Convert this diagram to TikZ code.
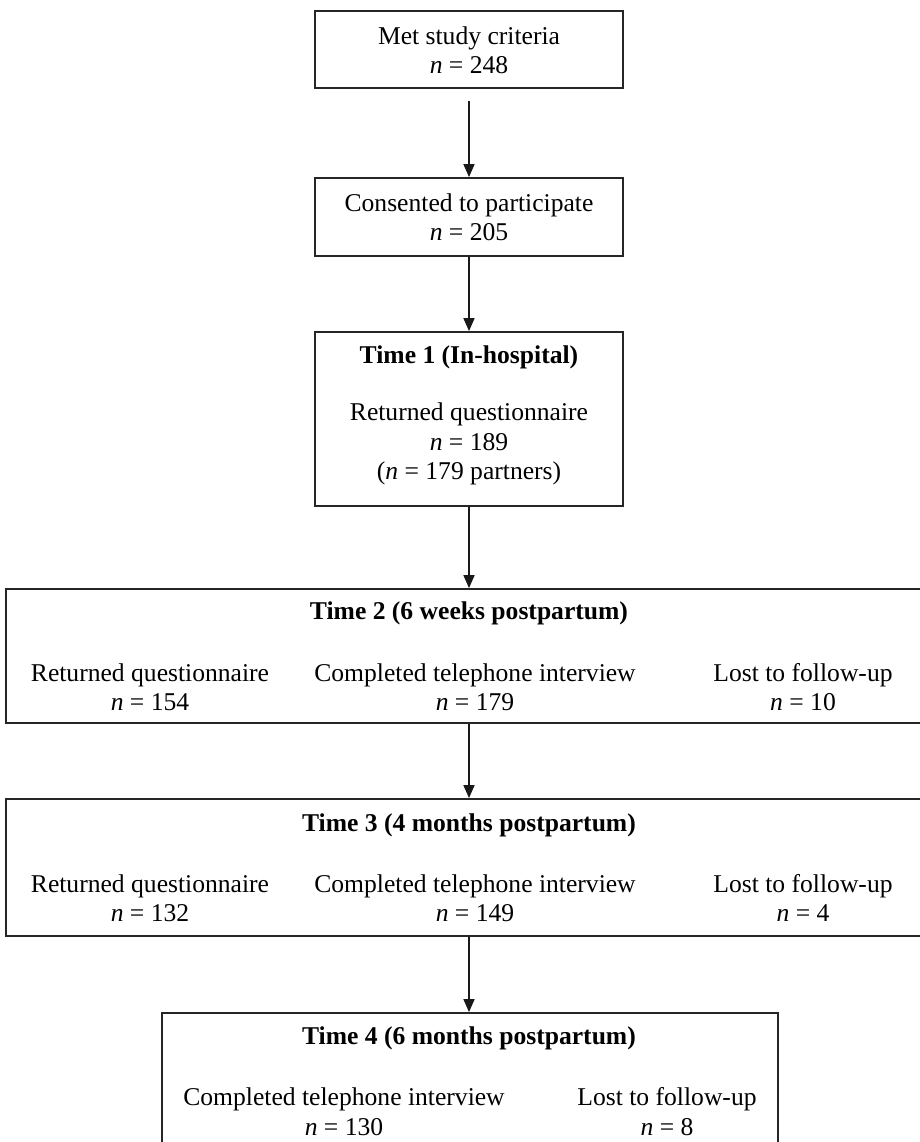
\documentclass[tikz,border=0pt]{standalone}
\usepackage{fontspec}
\setmainfont{Liberation Serif}
\usetikzlibrary{arrows.meta}
\tikzset{
  box/.style={draw=black!85, line width=1.8pt, rectangle, inner sep=0pt, anchor=center},
  txt/.style={align=center, inner sep=0pt, font=\fontsize{25.6}{29.5}\selectfont},
  ttl/.style={txt, font=\fontsize{25.6}{29.5}\selectfont\bfseries},
  flow/.style={draw=black!90, line width=1.6pt, -{Triangle[length=13pt,width=11pt]}}
}
\newcommand{\nn}{\textit{n}}
\begin{document}
\begin{tikzpicture}[x=1pt,y=-1pt]
\useasboundingbox (0,0) rectangle (920,1142);
% boxes
\node[box, minimum width=308pt, minimum height=77pt] (met) at (469,49.5) {};
\node[box, minimum width=308pt, minimum height=78pt] (cons) at (469,217) {};
\node[box, minimum width=308pt, minimum height=174pt] (t1) at (469,419) {};
\node[box, minimum width=916pt, minimum height=134pt] (t2) at (464,656) {};
\node[box, minimum width=916pt, minimum height=137pt] (t3) at (464,867.5) {};
\node[box, minimum width=616pt, minimum height=147pt] (t4) at (470,1086.5) {};
% texts
\node[txt] (metT) at (469,50) {Met study criteria\\ \nn{} = 248};
\node[txt] (consT) at (469,217) {Consented to participate\\ \nn{} = 205};
\node[ttl] (t1h) at (469,357) {Time 1 (In-hospital)};
\node[txt] (t1T) at (469,444) {Returned questionnaire\\ \nn{} = 189\\ (\nn{} = 179 partners)};
\node[ttl] (t2h) at (469,613) {Time 2 (6 weeks postpartum)};
\node[txt] (t2a) at (150,687) {Returned questionnaire\\ \nn{} = 154};
\node[txt] (t2b) at (475,687) {Completed telephone interview\\ \nn{} = 179};
\node[txt] (t2c) at (803,687) {Lost to follow-up\\ \nn{} = 10};
\node[ttl] (t3h) at (469,825) {Time 3 (4 months postpartum)};
\node[txt] (t3a) at (150,898) {Returned questionnaire\\ \nn{} = 132};
\node[txt] (t3b) at (475,898) {Completed telephone interview\\ \nn{} = 149};
\node[txt] (t3c) at (803,898) {Lost to follow-up\\ \nn{} = 4};
\node[ttl] (t4h) at (469,1038) {Time 4 (6 months postpartum)};
\node[txt] (t4a) at (344,1111.5) {Completed telephone interview\\ \nn{} = 130};
\node[txt] (t4b) at (667,1111.5) {Lost to follow-up\\ \nn{} = 8};
% arrows
\coordinate (metgap) at ([yshift=-12pt]met.south);
\draw[flow] (metgap) -- (cons.north);
\draw[flow] (cons.south) -- (t1.north);
\draw[flow] (t1.south) -- (t1.south |- t2.north);
\draw[flow] (t1.south |- t2.south) -- (t1.south |- t3.north);
\draw[flow] (t1.south |- t3.south) -- (t1.south |- t4.north);
\end{tikzpicture}
\end{document}
